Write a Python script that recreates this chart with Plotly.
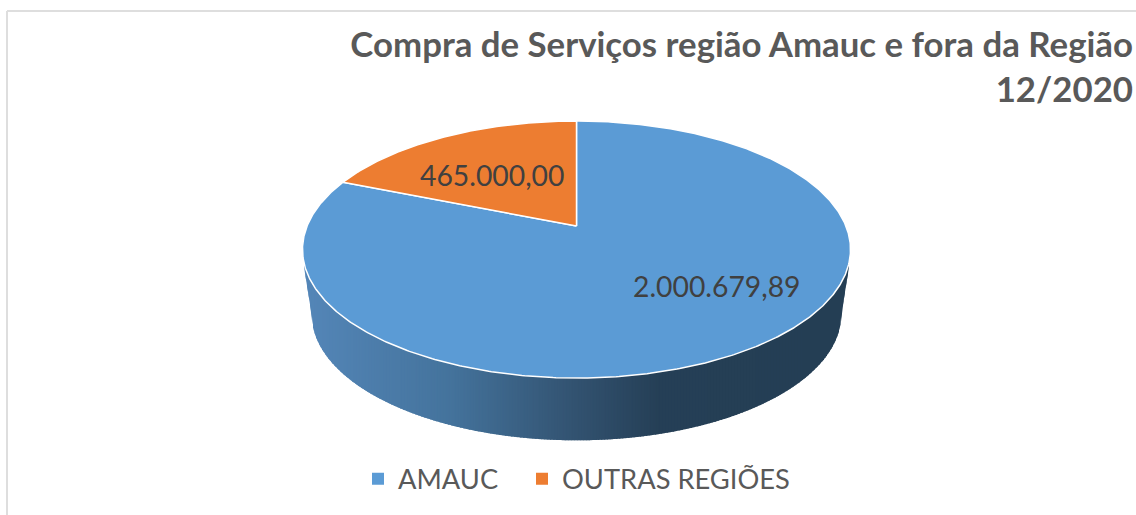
import math
import numpy as np
import plotly.graph_objects as go

categories = ["AMAUC", "OUTRAS REGIÕES"]
values = [2000679.89, 465000.00]
slice_colors = ["#5B9BD5", "#ED7D31"]
title_lines = ["Compra de Serviços região Amauc e fora da Região", "12/2020"]

FONT = "Lato, Carlito, sans-serif"
W, H = 1136, 515

# perspective model of the 3-D pie (canvas pixels)
CX, K = 576.5, 0.1829
TOP = dict(vy=226.0, A=269.4, B=124.2)
BOT = dict(vy=291.0, A=260.5, B=122.0)


def project(theta_deg, p):
    t = math.radians(theta_deg)
    X, Y = math.sin(t), math.cos(t)
    d = 1 + K * Y
    return CX + p["A"] * X / d, p["vy"] - p["B"] * Y / d


def front_rim(p):
    """Points of the rim's front half, sorted by x."""
    pts = [project(a, p) for a in np.arange(260, 99.5, -0.5)]
    pts = sorted(pts)
    return [q[0] for q in pts], [q[1] for q in pts]


def pt_br(v):
    return f"{v:,.2f}".replace(",", "#").replace(".", ",").replace("#", ".")


def lerp_color(x):
    stops = [(303, (84, 134, 184)), (450, (68, 115, 156)), (576, (50, 82, 112)),
             (660, (37, 63, 86)), (850, (36, 62, 84))]
    for (x0, c0), (x1, c1) in zip(stops, stops[1:]):
        if x <= x1:
            f = max(0.0, (x - x0) / (x1 - x0))
            return "rgb(%d,%d,%d)" % tuple(round(a + (b - a) * f) for a, b in zip(c0, c1))
    return "rgb(36,62,84)"


fig = go.Figure()

# side wall, in overlapping vertical strips for the horizontal shading
tx, ty = front_rim(TOP)
bx, by = front_rim(BOT)
WALL_L, WALL_R, WALL_Y = 304.0, 849.0, 267.0
bx = [WALL_L] + bx + [WALL_R]
by = [WALL_Y] + by + [WALL_Y]
edges = np.arange(WALL_L, WALL_R + 0.1, 1.5)
for x0, x1 in zip(edges[:-1], edges[1:]):
    xe = min(x1 + 1.0, WALL_R)
    tops = np.interp([x0, xe], tx, ty) - 2
    bots = np.interp([x0, xe], bx, by)
    xs = [x0, xe, xe, x0, x0]
    ys = [tops[0], tops[1], bots[1], bots[0], tops[0]]
    c = lerp_color((x0 + x1) / 2)
    fig.add_trace(go.Scatter(x=xs, y=ys, mode="lines", fill="toself",
                             fillcolor=c, line=dict(color=c, width=0),
                             hoverinfo="skip", showlegend=False))

# top surface: slice angles come from the values
total = sum(values)
start = 0.0
for cat, val, col in zip(categories, values, slice_colors):
    end = start + 360 * val / total
    n = max(2, int(end - start) * 2)
    arc = [project(start + (end - start) * j / n, TOP) for j in range(n + 1)]
    xs = [CX] + [q[0] for q in arc] + [CX]
    ys = [TOP["vy"]] + [q[1] for q in arc] + [TOP["vy"]]
    fig.add_trace(go.Scatter(x=xs, y=ys, mode="lines", fill="toself", fillcolor=col,
                             line=dict(color="#FFFFFF", width=1.5), name=cat,
                             hoverinfo="name", showlegend=False))
    start = end

# legend entries, one legend each so the gap between them can be set
legend_ids = ["legend", "legend2"]
for cat, col, lid in zip(categories, slice_colors, legend_ids):
    fig.add_trace(go.Scatter(x=[None], y=[None], mode="markers", name=cat, legend=lid,
                             marker=dict(symbol="square", size=12, color=col)))

label_pos = [(717, 286), (492, 174.5)]
annotations = [
    dict(x=x, y=y, xref="x", yref="y", text=pt_br(v), showarrow=False,
         font=dict(family=FONT, size=28.3, color="#404040"))
    for (x, y), v in zip(label_pos, values)
]

legend_style = dict(orientation="h", xanchor="left", y=1 - 479 / H, yanchor="middle",
                    font=dict(family=FONT, size=27.3, color="#595959"),
                    bgcolor="rgba(0,0,0,0)")

fig.update_layout(
    width=W, height=H, margin=dict(l=0, r=0, t=0, b=0),
    paper_bgcolor="#FFFFFF", plot_bgcolor="#FFFFFF",
    xaxis=dict(range=[0, W], visible=False, fixedrange=True),
    yaxis=dict(range=[H, 0], visible=False, fixedrange=True),
    title=dict(text="<br>".join(f"<b>{t}</b>" for t in title_lines),
               x=1133 / W, xanchor="right", xref="paper",
               y=1 - 57 / H, yanchor="bottom", yref="paper",
               font=dict(family=FONT, size=34.8, color="#595959")),
    legend=dict(x=358 / W, **legend_style),
    legend2=dict(x=522 / W, **legend_style),
    annotations=annotations,
    shapes=[
        dict(type="line", xref="x", yref="y", x0=7, x1=W, y0=11, y1=11,
             line=dict(color="#DEDEDE", width=2)),
        dict(type="line", xref="x", yref="y", x0=7, x1=7, y0=11, y1=H,
             line=dict(color="#DEDEDE", width=2)),
    ],
)

fig.write_html("out.html", config={"displayModeBar": False},
               post_script="document.body.style.margin='0';")
